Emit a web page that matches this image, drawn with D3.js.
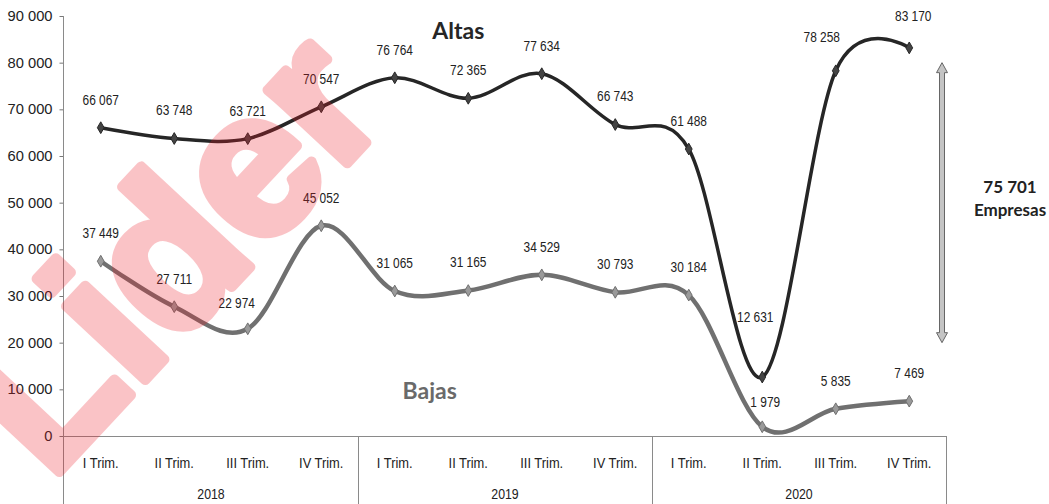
<!DOCTYPE html>
<html>
<head>
<meta charset="utf-8">
<script src="https://cdn.jsdelivr.net/npm/d3@7"></script>
<style>
  body { margin: 0; background: #fff; }
  svg { display: block; }
  .num { font-family: "Liberation Sans", Arial, sans-serif; }
  .lbl { font-family: Lato, "Open Sans", sans-serif; font-weight: 700; }
</style>
</head>
<body>
<div id="chart"></div>
<script>
const width = 1049;
const height = 504;

// chart data
const years = ['2018', '2019', '2020'];
const quarters = ['I Trim.', 'II Trim.', 'III Trim.', 'IV Trim.'];
const altas = [66067, 63748, 63721, 70547, 76764, 72365, 77634, 66743, 61488, 12631, 78258, 83170];
const bajas = [37449, 27711, 22974, 45052, 31065, 31165, 34529, 30793, 30184, 1979, 5835, 7469];
const yTicks = [0, 10000, 20000, 30000, 40000, 50000, 60000, 70000, 80000, 90000];
const diffTotal = 75701;

// a few labels were moved by hand in the original
const altasNudge = { 9: [-7, -32], 10: [-14, -6], 11: [4, -4] };
const bajasNudge = { 2: [-11, 2], 9: [3, 3] };

const periods = years.flatMap(y => quarters.map(q => y + '|' + q));
const fmt = d3.formatLocale({ decimal: ',', thousands: ' ', grouping: [3], currency: ['', ''] }).format(',d');

const margin = { top: 16, right: 103, bottom: 68, left: 64 };
const plot = {
  left: margin.left,
  right: width - margin.right,
  top: margin.top,
  bottom: height - margin.bottom,
};

const svg = d3.select('#chart')
  .append('svg')
  .attr('width', width)
  .attr('height', height);

// the original uses a narrow font, squeeze the text horizontally
function squeeze(sel, k) {
  sel.each(function () {
    const w = this.getComputedTextLength();
    d3.select(this)
      .attr('textLength', w * k)
      .attr('lengthAdjust', 'spacingAndGlyphs');
  });
}

const xScale = d3.scaleBand()
  .domain(periods)
  .range([plot.left, plot.right])
  .padding(0);

const yScale = d3.scaleLinear()
  .domain([0, 90000])
  .range([plot.bottom, plot.top]);

const cx = i => xScale(periods[i]) + xScale.bandwidth() / 2;

// y axis
const yAxis = svg.append('g')
  .attr('transform', `translate(${plot.left - 0.5}, 0)`)
  .call(d3.axisLeft(yScale).tickValues(yTicks).tickFormat(fmt).tickSize(4).tickPadding(7));
yAxis.select('.domain').remove();
yAxis.selectAll('line').attr('stroke', '#777');
yAxis.selectAll('text')
  .attr('class', 'num')
  .attr('font-size', 14)
  .attr('fill', '#222')
  .call(squeeze, 1.05);

const gridColor = '#8a8a8a';
// left axis line runs down through the category rows
svg.append('line')
  .attr('x1', plot.left - 0.5).attr('x2', plot.left - 0.5)
  .attr('y1', yScale(90000)).attr('y2', height)
  .attr('stroke', gridColor);

// x axis line
svg.append('line')
  .attr('x1', plot.left - 0.5).attr('x2', plot.right + 0.5)
  .attr('y1', plot.bottom + 0.5).attr('y2', plot.bottom + 0.5)
  .attr('stroke', gridColor);

// year separators + right edge
[4, 8].forEach(i => {
  const x = Math.round(xScale(periods[i])) + 0.5;
  svg.append('line')
    .attr('x1', x).attr('x2', x)
    .attr('y1', plot.bottom).attr('y2', height)
    .attr('stroke', gridColor);
});
svg.append('line')
  .attr('x1', plot.right + 0.5).attr('x2', plot.right + 0.5)
  .attr('y1', plot.bottom).attr('y2', height)
  .attr('stroke', gridColor);

// category labels
svg.append('g').selectAll('text')
  .data(periods)
  .join('text')
  .attr('class', 'num')
  .attr('x', (d, i) => cx(i))
  .attr('y', plot.bottom + 32)
  .attr('text-anchor', 'middle')
  .attr('font-size', 14)
  .attr('fill', '#222')
  .text(d => d.split('|')[1])
  .call(squeeze, 0.92);

// year labels
svg.append('g').selectAll('text')
  .data(years)
  .join('text')
  .attr('class', 'num')
  .attr('x', d => (xScale(d + '|' + quarters[0]) + xScale(d + '|' + quarters[3]) + xScale.bandwidth()) / 2)
  .attr('y', plot.bottom + 63)
  .attr('text-anchor', 'middle')
  .attr('font-size', 14)
  .attr('fill', '#222')
  .text(d => d)
  .call(squeeze, 0.88);

const line = d3.line()
  .x((d, i) => cx(i))
  .y(d => yScale(d))
  .curve(d3.curveCatmullRom.alpha(0));

const diamond = d3.symbol().type(d3.symbolDiamond).size(40);

function drawSeries(values, color, markColor, lineWidth, nudge) {
  const g = svg.append('g');
  g.append('path')
    .datum(values)
    .attr('d', line)
    .attr('fill', 'none')
    .attr('stroke', color)
    .attr('stroke-width', lineWidth)
    .attr('stroke-linejoin', 'round');
  g.selectAll('path.mark')
    .data(values)
    .join('path')
    .attr('class', 'mark')
    .attr('d', diamond)
    .attr('transform', (d, i) => `translate(${cx(i)},${yScale(d)})`)
    .attr('fill', markColor)
    .attr('stroke', color)
    .attr('stroke-width', 1);
  g.selectAll('text')
    .data(values)
    .join('text')
    .attr('class', 'num')
    .attr('x', (d, i) => cx(i) + (nudge[i] ? nudge[i][0] : 0))
    .attr('y', (d, i) => yScale(d) - 28 + (nudge[i] ? nudge[i][1] : 0))
    .attr('dy', '0.35em')
    .attr('text-anchor', 'middle')
    .attr('font-size', 14)
    .attr('fill', '#222')
    .text(d => fmt(d))
    .call(squeeze, 0.85);
}

drawSeries(bajas, '#707070', '#9a9a9a', 4.5, bajasNudge);
drawSeries(altas, '#262626', '#444', 3.5, altasNudge);

// series names
svg.append('text')
  .attr('class', 'lbl')
  .attr('x', cx(5) - 10)
  .attr('y', yScale(85000))
  .attr('text-anchor', 'middle')
  .attr('font-size', 23)
  .attr('fill', '#262626')
  .text('Altas');

svg.append('text')
  .attr('class', 'lbl')
  .attr('x', cx(4) + 35)
  .attr('y', yScale(8000))
  .attr('text-anchor', 'middle')
  .attr('font-size', 23)
  .attr('fill', '#6a6a6a')
  .text('Bajas');

// double-headed arrow showing the gap
const ax = plot.right - 4;
const arrowTop = yScale(80000), arrowBot = yScale(20000);
const sw = 2.5, hw = 5.5, hl = 10;
const arrowPath = [
  [ax, arrowTop], [ax + hw, arrowTop + hl], [ax + sw, arrowTop + hl],
  [ax + sw, arrowBot - hl], [ax + hw, arrowBot - hl], [ax, arrowBot],
  [ax - hw, arrowBot - hl], [ax - sw, arrowBot - hl], [ax - sw, arrowTop + hl],
  [ax - hw, arrowTop + hl]
];
svg.append('path')
  .attr('d', d3.line()(arrowPath) + 'Z')
  .attr('fill', '#c4c4c4')
  .attr('stroke', '#666')
  .attr('stroke-width', 1);

svg.append('text')
  .attr('class', 'lbl')
  .attr('x', 1010)
  .attr('y', yScale(52000))
  .attr('text-anchor', 'middle')
  .attr('font-size', 17)
  .attr('fill', '#222')
  .text(fmt(diffTotal));

svg.append('text')
  .attr('class', 'lbl')
  .attr('x', 1010)
  .attr('y', yScale(47200))
  .attr('text-anchor', 'middle')
  .attr('font-size', 17)
  .attr('fill', '#222')
  .text('Empresas');

// watermark, drawn over the chart like the stamp in the original
svg.append('g')
  .attr('opacity', 0.26)
  .append('text')
  .attr('transform', 'translate(50,482) rotate(-47)')
  .attr('font-family', '"Liberation Sans", Arial, sans-serif')
  .attr('font-weight', 700)
  .attr('font-size', 205)
  .attr('fill', '#ee1c28')
  .attr('stroke', '#ee1c28')
  .attr('stroke-width', 10)
  .attr('stroke-linejoin', 'round')
  .text('Lider');
</script>
</body>
</html>
